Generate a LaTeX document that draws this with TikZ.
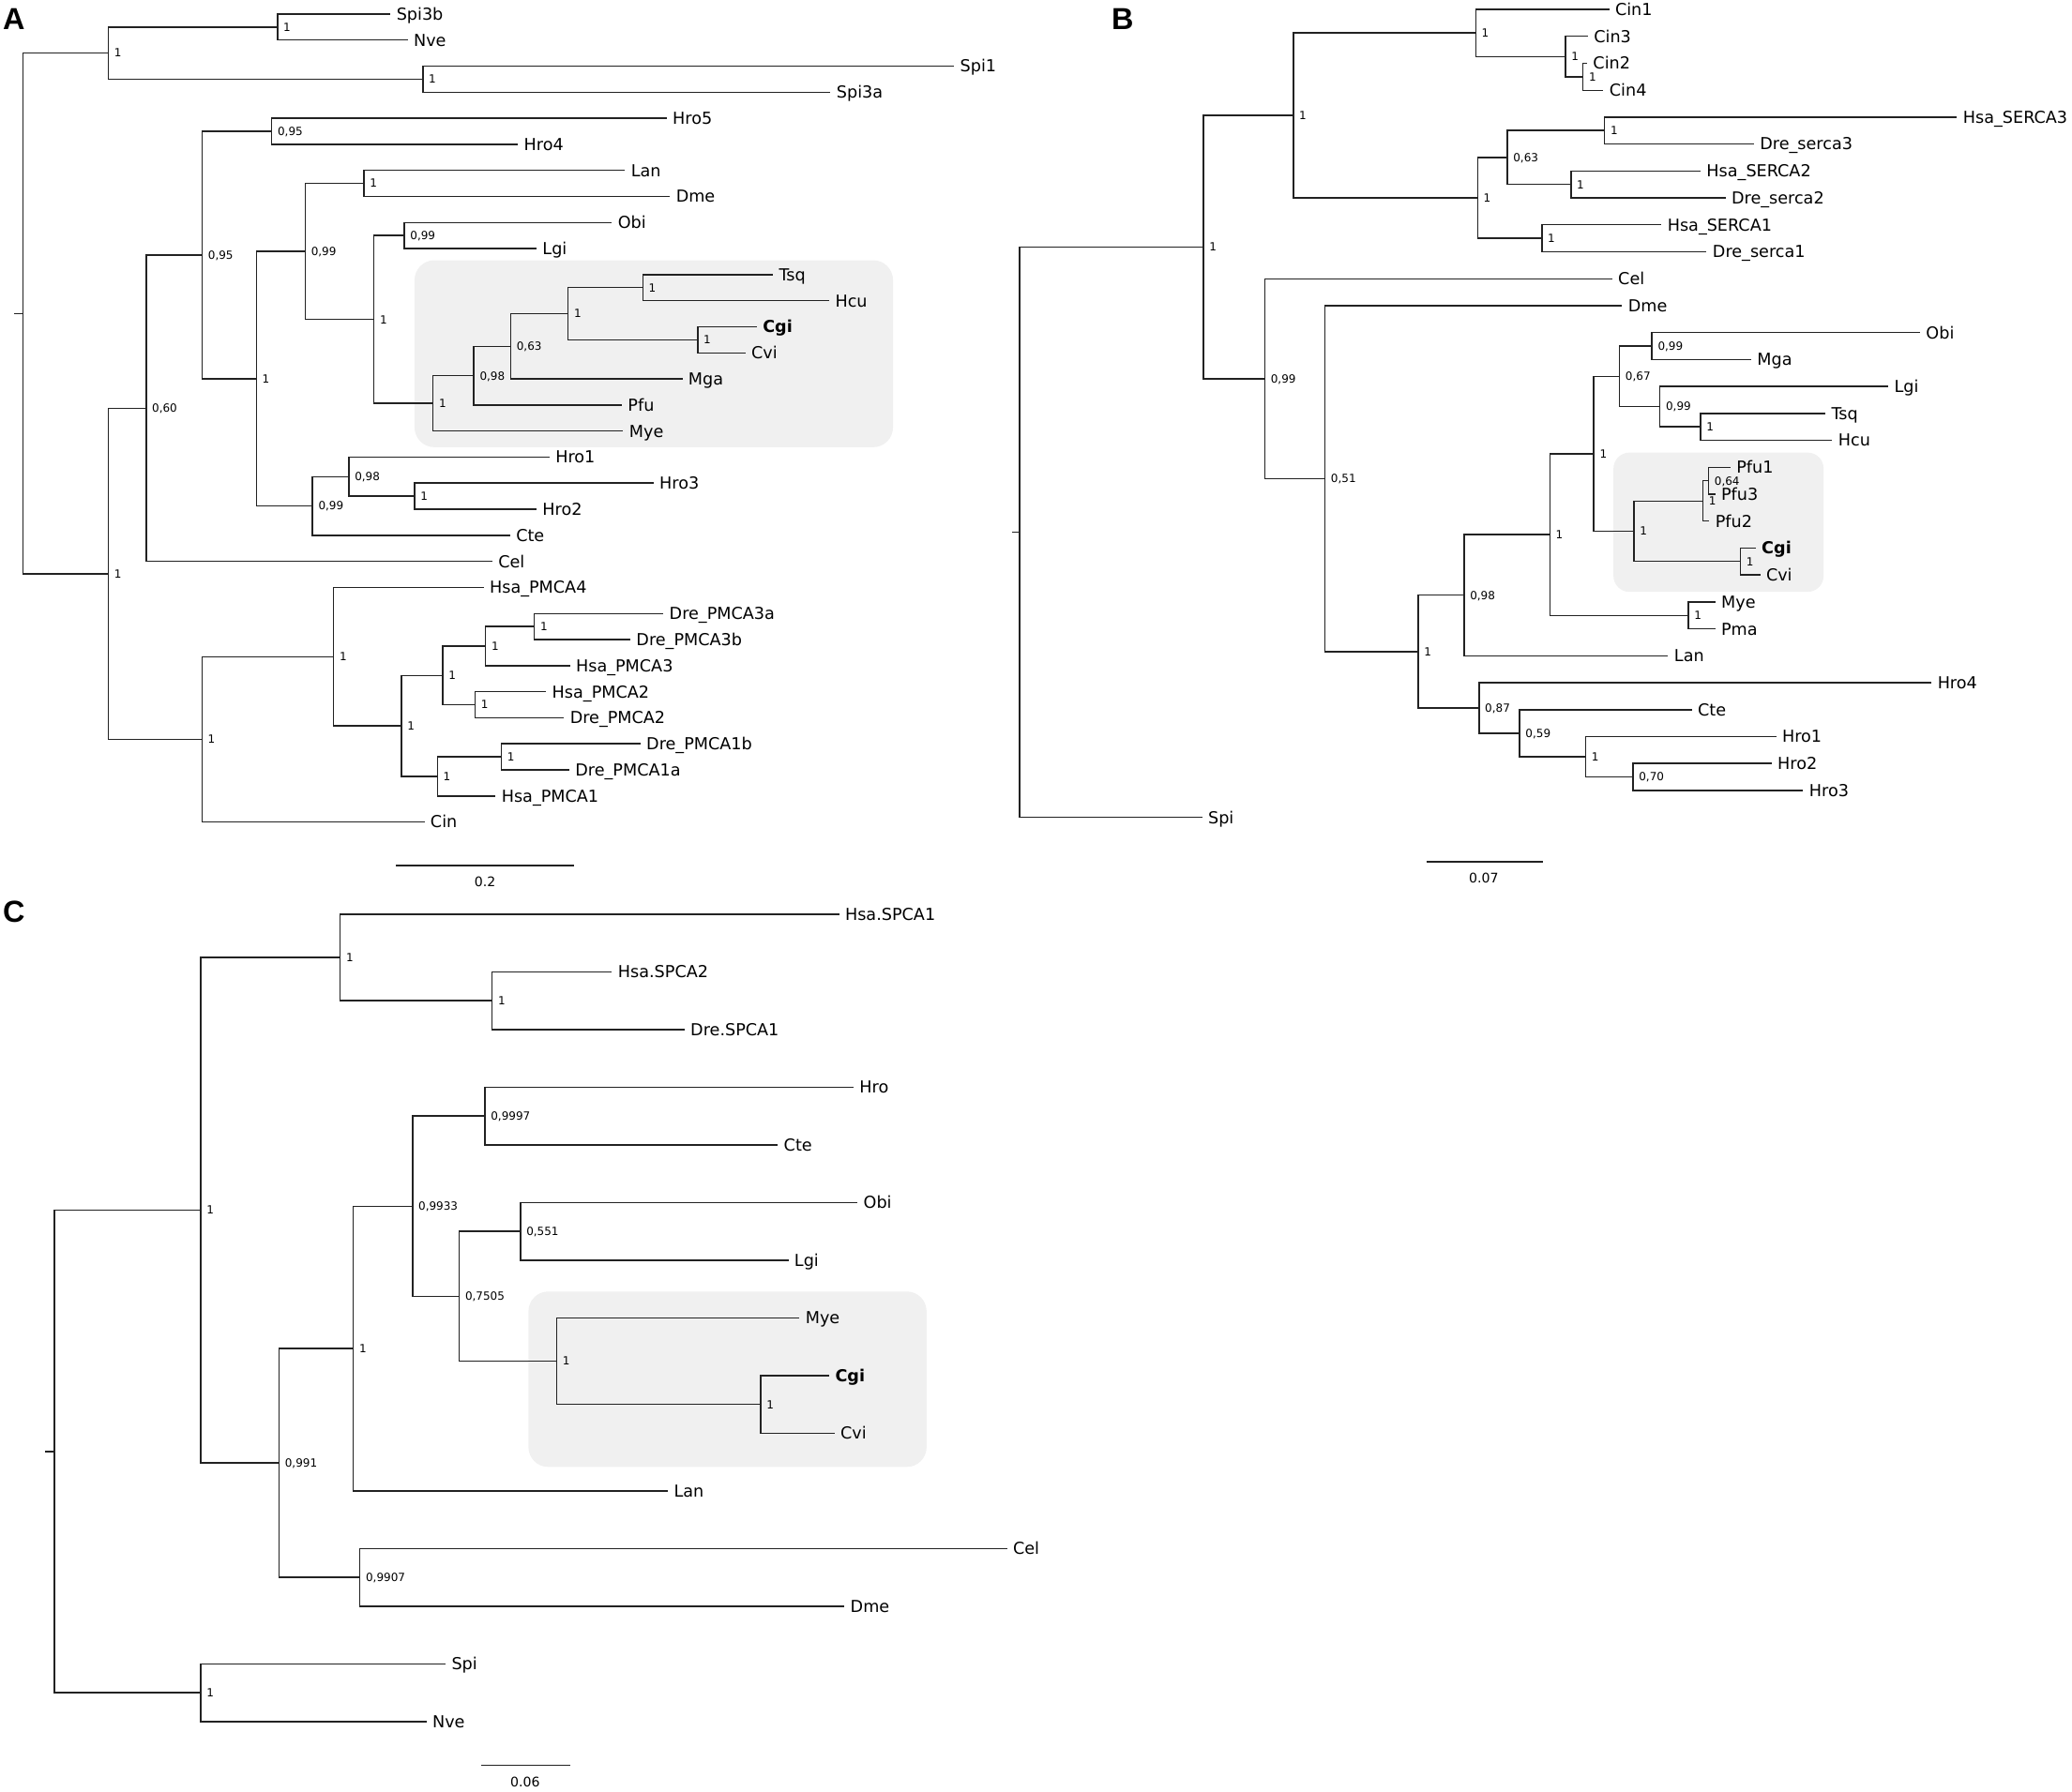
\documentclass[tikz,border=0pt]{standalone}
\usepackage{fontspec}
\setmainfont{DejaVu Sans}
\newfontfamily\panelfont{Liberation Sans}
\definecolor{boxgray}{HTML}{F0F0F0}
\definecolor{treeline}{HTML}{222222}
\newcommand\mkleaf[4]{\coordinate (#1) at (#2,#3); \node[lf] (#1-t) at (#1) {#4};}
\newcommand\mknode[4]{\coordinate (#1) at (#2,#3); \node[supp] (#1-t) at (#1) {#4};}
\newcommand\kids[3]{\draw[br] (#1) |- (#2) (#1) |- (#3);}
\begin{document}
\begin{tikzpicture}[x=1pt,y=-1pt,
  br/.style={draw=treeline, line width=1pt},
  lf/.style={anchor=west, inner sep=0pt, xshift=4.4pt, text height=9.1pt, text depth=0pt, font=\fontsize{12.5}{14}\selectfont},
  supp/.style={anchor=west, inner sep=0pt, xshift=4.3pt, text height=6.2pt, text depth=0pt, font=\fontsize{8.5}{10}\selectfont},
  clade/.style={fill=boxgray, draw=none, rounded corners=15pt},
  panel/.style={anchor=west, inner sep=0pt, text height=16.5pt, text depth=0pt, font=\panelfont\bfseries\fontsize{23}{25}\selectfont},
  scl/.style={inner sep=0pt, text height=7.3pt, text depth=0pt, font=\fontsize{10}{12}\selectfont}]
\useasboundingbox (0,0) rectangle (1568,1356);

% highlighted clades
\path[clade] (313.7,197) rectangle (675.8,338.5);
\path[clade, rounded corners=12pt] (1221,342.6) rectangle (1380,448);
\path[clade] (399.9,977.6) rectangle (701.2,1110.4);

% panel letters
\node[panel] (pA) at (2,14.2) {A};
\node[panel] (pB) at (841,14.2) {B};
\node[panel] (pC) at (2,690) {C};

% ================= Tree A =================
\mkleaf{aSpi3b}{295.5}{10.6}{Spi3b}
\mkleaf{aNve}{308.5}{30.3}{Nve}
\mkleaf{aSpi1}{722}{50.1}{Spi1}
\mkleaf{aSpi3a}{628.5}{69.8}{Spi3a}
\mkleaf{aHro5}{504.5}{89.5}{Hro5}
\mkleaf{aHro4}{392}{109.3}{Hro4}
\mkleaf{aLan}{473}{129.0}{Lan}
\mkleaf{aDme}{507}{148.7}{Dme}
\mkleaf{aObi}{463}{168.4}{Obi}
\mkleaf{aLgi}{406}{188.2}{Lgi}
\mkleaf{aTsq}{585}{207.9}{Tsq}
\mkleaf{aHcu}{627.5}{227.6}{Hcu}
\mkleaf{aCgi}{572.7}{247.4}{\textbf{Cgi}}
\mkleaf{aCvi}{564}{267.1}{Cvi}
\mkleaf{aMga}{516.4}{286.8}{Mga}
\mkleaf{aPfu}{470.6}{306.6}{Pfu}
\mkleaf{aMye}{471.6}{326.3}{Mye}
\mkleaf{aHro1}{415.8}{346.0}{Hro1}
\mkleaf{aHro3}{494.5}{365.7}{Hro3}
\mkleaf{aHro2}{406}{385.5}{Hro2}
\mkleaf{aCte}{386}{405.2}{Cte}
\mkleaf{aCel}{372.5}{424.9}{Cel}
\mkleaf{aP4}{366}{444.7}{Hsa\_PMCA4}
\mkleaf{aP3a}{502}{464.4}{Dre\_PMCA3a}
\mkleaf{aP3b}{477}{484.1}{Dre\_PMCA3b}
\mkleaf{aH3}{431.3}{503.9}{Hsa\_PMCA3}
\mkleaf{aH2}{413.3}{523.6}{Hsa\_PMCA2}
\mkleaf{aD2}{426.8}{543.3}{Dre\_PMCA2}
\mkleaf{aP1b}{484.6}{563.0}{Dre\_PMCA1b}
\mkleaf{aP1a}{430.8}{582.8}{Dre\_PMCA1a}
\mkleaf{aH1}{375}{602.5}{Hsa\_PMCA1}
\mkleaf{aCin}{321.2}{622.2}{Cin}

\mknode{a1}{210}{20.45}{1}
\mknode{a2}{320}{59.95}{1}
\mknode{a3}{82}{40.2}{1}
\mknode{a4}{205.7}{99.4}{0,95}
\mknode{a5}{275.4}{138.85}{1}
\mknode{a6}{306}{178.3}{0,99}
\mknode{a7}{486.5}{217.75}{1}
\mknode{a8}{528}{257.25}{1}
\mknode{a9}{430}{237.5}{1}
\mknode{a10}{386.5}{262.15}{0,63}
\mknode{a11}{358.6}{284.4}{0,98}
\mknode{a12}{327.7}{305.35}{1}
\mknode{a13}{283}{241.8}{1}
\mknode{a14}{231}{190.3}{0,99}
\mknode{a15}{313.7}{375.6}{1}
\mknode{a16}{264}{360.8}{0,98}
\mknode{a17}{236.5}{383.0}{0,99}
\mknode{a18}{194}{286.65}{1}
\mknode{a19}{153}{193.0}{0,95}
\mknode{a20}{110.6}{308.95}{0,60}
\mknode{a21}{404.4}{474.25}{1}
\mknode{a22}{367.5}{489.1}{1}
\mknode{a23}{359.6}{533.45}{1}
\mknode{a24}{335}{511.3}{1}
\mknode{a25}{379.5}{572.9}{1}
\mknode{a26}{331}{587.7}{1}
\mknode{a27}{303.8}{549.5}{1}
\mknode{a28}{252.5}{497.1}{1}
\mknode{a29}{152.9}{559.65}{1}
\mknode{a30}{82}{434.3}{1}
\coordinate (aR) at (17.4,237.25);
\coordinate (aS) at (10.5,237.25);

\kids{a1}{aSpi3b}{aNve}
\kids{a2}{aSpi1}{aSpi3a}
\kids{a3}{a1}{a2}
\kids{a4}{aHro5}{aHro4}
\kids{a5}{aLan}{aDme}
\kids{a6}{aObi}{aLgi}
\kids{a7}{aTsq}{aHcu}
\kids{a8}{aCgi}{aCvi}
\kids{a9}{a7}{a8}
\kids{a10}{a9}{aMga}
\kids{a11}{a10}{aPfu}
\kids{a12}{a11}{aMye}
\kids{a13}{a6}{a12}
\kids{a14}{a5}{a13}
\kids{a15}{aHro3}{aHro2}
\kids{a16}{aHro1}{a15}
\kids{a17}{a16}{aCte}
\kids{a18}{a14}{a17}
\kids{a19}{a4}{a18}
\kids{a20}{a19}{aCel}
\kids{a21}{aP3a}{aP3b}
\kids{a22}{a21}{aH3}
\kids{a23}{aH2}{aD2}
\kids{a24}{a22}{a23}
\kids{a25}{aP1b}{aP1a}
\kids{a26}{a25}{aH1}
\kids{a27}{a24}{a26}
\kids{a28}{aP4}{a27}
\kids{a29}{a28}{aCin}
\kids{a30}{a20}{a29}
\kids{aR}{a3}{a30}
\draw[br] (aS) -- (aR);

\coordinate (aB1) at (299.8,655.3);
\coordinate (aB2) at (434.3,655.3);
\draw[br] (aB1) -- (aB2);
\node[scl] (aBt) at (367,667.6) {0.2};

% ================= Tree B =================
\mkleaf{bCin1}{1217.7}{7.1}{Cin1}
\mkleaf{bCin3}{1201.6}{27.5}{Cin3}
\mkleaf{bCin2}{1201}{47.9}{Cin2}
\mkleaf{bCin4}{1213.4}{68.3}{Cin4}
\mkleaf{bHS3}{1481}{88.6}{Hsa\_SERCA3}
\mkleaf{bDs3}{1327.3}{109.0}{Dre\_serca3}
\mkleaf{bHS2}{1286.9}{129.4}{Hsa\_SERCA2}
\mkleaf{bDs2}{1305.8}{149.8}{Dre\_serca2}
\mkleaf{bHS1}{1257.3}{170.2}{Hsa\_SERCA1}
\mkleaf{bDs1}{1291.5}{190.6}{Dre\_serca1}
\mkleaf{bCel}{1220}{211.0}{Cel}
\mkleaf{bDme}{1227.5}{231.4}{Dme}
\mkleaf{bObi}{1453}{251.7}{Obi}
\mkleaf{bMga}{1325.2}{272.1}{Mga}
\mkleaf{bLgi}{1429}{292.5}{Lgi}
\mkleaf{bTsq}{1381.4}{312.9}{Tsq}
\mkleaf{bHcu}{1386.6}{333.3}{Hcu}
\mkleaf{bPfu1}{1309.5}{353.7}{Pfu1}
\mkleaf{bPfu3}{1298}{374.1}{Pfu3}
\mkleaf{bPfu2}{1293.5}{394.5}{Pfu2}
\mkleaf{bCgi}{1328.6}{414.8}{\textbf{Cgi}}
\mkleaf{bCvi}{1332}{435.2}{Cvi}
\mkleaf{bMye}{1298}{455.6}{Mye}
\mkleaf{bPma}{1298}{476.0}{Pma}
\mkleaf{bLan}{1262.4}{496.4}{Lan}
\mkleaf{bHro4}{1461.7}{516.8}{Hro4}
\mkleaf{bCte}{1280.3}{537.2}{Cte}
\mkleaf{bHro1}{1344.1}{557.6}{Hro1}
\mkleaf{bHro2}{1340.6}{577.9}{Hro2}
\mkleaf{bHro3}{1364.6}{598.3}{Hro3}
\mkleaf{bSpi}{909.7}{618.7}{Spi}

\mknode{b1}{1198}{58.1}{1}
\mknode{b2}{1184.7}{42.8}{1}
\mknode{b3}{1116.7}{24.95}{1}
\mknode{b4}{1214.3}{98.8}{1}
\mknode{b5}{1188.8}{139.6}{1}
\mknode{b6}{1140.7}{119.2}{0,63}
\mknode{b7}{1166.8}{180.4}{1}
\mknode{b8}{1118.2}{149.8}{1}
\mknode{b9}{978.7}{87.4}{1}
\mknode{b10}{1250.1}{261.9}{0,99}
\mknode{b11}{1286.9}{323.1}{1}
\mknode{b12}{1256.2}{307.8}{0,99}
\mknode{b13}{1225.6}{284.85}{0,67}
\mknode{b14}{1293}{363.9}{0,64}
\mknode{b15}{1288.7}{379.2}{1}
\mknode{b16}{1317}{425.0}{1}
\mknode{b17}{1236.6}{402.1}{1}
\mknode{b18}{1206.1}{343.5}{1}
\mknode{b19}{1277.7}{465.8}{1}
\mknode{b20}{1172.9}{404.65}{1}
\mknode{b21}{1108}{450.5}{0,98}
\mknode{b22}{1235.8}{588.1}{0,70}
\mknode{b23}{1200}{572.85}{1}
\mknode{b24}{1150}{555.0}{0,59}
\mknode{b25}{1119.3}{535.9}{0,87}
\mknode{b26}{1073.3}{493.2}{1}
\mknode{b27}{1002.7}{362.3}{0,51}
\mknode{b28}{957.2}{286.65}{0,99}
\mknode{b29}{910.7}{187.0}{1}
\coordinate (bR) at (771.7,402.85);
\coordinate (bS) at (766,402.85);

\kids{b1}{bCin2}{bCin4}
\kids{b2}{bCin3}{b1}
\kids{b3}{bCin1}{b2}
\kids{b4}{bHS3}{bDs3}
\kids{b5}{bHS2}{bDs2}
\kids{b6}{b4}{b5}
\kids{b7}{bHS1}{bDs1}
\kids{b8}{b6}{b7}
\kids{b9}{b3}{b8}
\kids{b10}{bObi}{bMga}
\kids{b11}{bTsq}{bHcu}
\kids{b12}{bLgi}{b11}
\kids{b13}{b10}{b12}
\kids{b14}{bPfu1}{bPfu3}
\kids{b15}{b14}{bPfu2}
\kids{b16}{bCgi}{bCvi}
\kids{b17}{b15}{b16}
\kids{b18}{b13}{b17}
\kids{b19}{bMye}{bPma}
\kids{b20}{b18}{b19}
\kids{b21}{b20}{bLan}
\kids{b22}{bHro2}{bHro3}
\kids{b23}{bHro1}{b22}
\kids{b24}{bCte}{b23}
\kids{b25}{bHro4}{b24}
\kids{b26}{b21}{b25}
\kids{b27}{bDme}{b26}
\kids{b28}{bCel}{b27}
\kids{b29}{b9}{b28}
\kids{bR}{b29}{bSpi}
\draw[br] (bS) -- (bR);

\coordinate (bB1) at (1079.4,652.3);
\coordinate (bB2) at (1167.8,652.3);
\draw[br] (bB1) -- (bB2);
\node[scl] (bBt) at (1122.8,664.3) {0.07};

% ================= Tree C =================
\mkleaf{cS1}{635}{692}{Hsa.SPCA1}
\mkleaf{cS2}{463.1}{735.7}{Hsa.SPCA2}
\mkleaf{cD1}{518}{779.3}{Dre.SPCA1}
\mkleaf{cHro}{645.9}{823.0}{Hro}
\mkleaf{cCte}{588.6}{866.6}{Cte}
\mkleaf{cObi}{648.9}{910.3}{Obi}
\mkleaf{cLgi}{596.6}{953.9}{Lgi}
\mkleaf{cMye}{605}{997.6}{Mye}
\mkleaf{cCgi}{627.5}{1041.3}{\textbf{Cgi}}
\mkleaf{cCvi}{631.5}{1084.9}{Cvi}
\mkleaf{cLan}{505.5}{1128.6}{Lan}
\mkleaf{cCel}{762}{1172.2}{Cel}
\mkleaf{cDme}{639}{1215.9}{Dme}
\mkleaf{cSpi}{337.2}{1259.5}{Spi}
\mkleaf{cNve}{322.7}{1303.2}{Nve}

\mknode{c1}{372.5}{757.5}{1}
\mknode{c2}{257.5}{724.75}{1}
\mknode{c3}{367}{844.8}{0,9997}
\mknode{c4}{393.9}{932.1}{0,551}
\mknode{c5}{575.7}{1063.1}{1}
\mknode{c6}{421.3}{1030.35}{1}
\mknode{c7}{347.6}{981.2}{0,7505}
\mknode{c8}{312.2}{913.0}{0,9933}
\mknode{c9}{267.4}{1020.8}{1}
\mknode{c10}{272.4}{1194.05}{0,9907}
\mknode{c11}{211.2}{1107.4}{0,991}
\mknode{c12}{151.9}{916.1}{1}
\mknode{c13}{151.9}{1281.35}{1}
\coordinate (cR) at (41.3,1098.7);
\coordinate (cSt) at (33.9,1098.7);

\kids{c1}{cS2}{cD1}
\kids{c2}{cS1}{c1}
\kids{c3}{cHro}{cCte}
\kids{c4}{cObi}{cLgi}
\kids{c5}{cCgi}{cCvi}
\kids{c6}{cMye}{c5}
\kids{c7}{c4}{c6}
\kids{c8}{c3}{c7}
\kids{c9}{c8}{cLan}
\kids{c10}{cCel}{cDme}
\kids{c11}{c9}{c10}
\kids{c12}{c2}{c11}
\kids{c13}{cSpi}{cNve}
\kids{cR}{c12}{c13}
\draw[br] (cSt) -- (cR);

\coordinate (cB1) at (364,1336.3);
\coordinate (cB2) at (431.3,1336.3);
\draw[br] (cB1) -- (cB2);
\node[scl] (cBt) at (397.4,1349.1) {0.06};
\end{tikzpicture}
\end{document}
